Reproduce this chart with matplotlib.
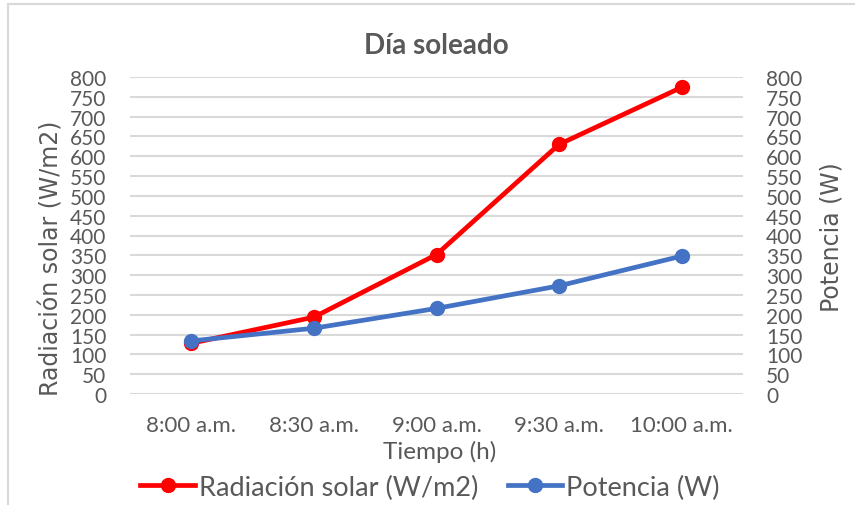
import matplotlib
matplotlib.use("Agg")
import matplotlib.pyplot as plt
from matplotlib.lines import Line2D
from matplotlib.patches import Rectangle

# Data
horas = ["8:00 a.m.", "8:30 a.m.", "9:00 a.m.", "9:30 a.m.", "10:00 a.m."]
radiacion = [128, 194, 352, 630, 774]
potencia = [134, 166, 216, 273, 348]
yticks = list(range(0, 801, 50))

TEXT = "#595959"
GRID = "#d9d9d9"
RED = "#ff0000"
BLUE = "#4472c4"
FONT = ["Lato", "DejaVu Sans"]
W, H = 855, 506


def fx(px):
    return px / W


def fy(py):
    return 1 - py / H


fig = plt.figure(figsize=(W / 100, H / 100), dpi=100)
fig.patch.set_facecolor("white")

# chart area border
fig.add_artist(Rectangle((fx(7.5), -0.1), 1.2, fy(4.5) + 0.1,
                         transform=fig.transFigure, fill=False,
                         edgecolor=GRID, linewidth=1.5))

ax = fig.add_axes([fx(130), fy(395), (743 - 130) / W, (395 - 78) / H])
x = list(range(len(horas)))

ax.set_xlim(-0.5, len(horas) - 0.5)
ax.set_ylim(0, 800)
ax.set_yticks(yticks)
ax.yaxis.grid(True, color=GRID, linewidth=1.5)
ax.set_axisbelow(True)
for s in ax.spines.values():
    s.set_visible(False)
ax.tick_params(length=0, labelcolor=TEXT)
ax.tick_params(axis="y", pad=17, labelsize=15)
ax.tick_params(axis="x", pad=15, labelsize=16)
ax.set_xticks(x)
ax.set_xticklabels(horas, family=FONT)
for lab in ax.get_yticklabels():
    lab.set_family(FONT)

ax.plot(x, radiacion, color=RED, linewidth=3.4, marker="o", markersize=10,
        solid_capstyle="round", zorder=3)

ax2 = ax.twinx()
ax2.set_ylim(0, 800)
ax2.set_yticks(yticks)
for s in ax2.spines.values():
    s.set_visible(False)
ax2.tick_params(length=0, labelsize=15, labelcolor=TEXT, pad=16.5)
for lab in ax2.get_yticklabels():
    lab.set_family(FONT)
ax2.plot(x, potencia, color=BLUE, linewidth=3.4, marker="o", markersize=10,
         solid_capstyle="round", zorder=3)

# axis titles
fig.text(fx(51), fy(258), "Radiación solar (W/m2)", rotation=90,
         ha="center", va="center", fontsize=17, color=TEXT,
         family="DejaVu Sans")
fig.text(fx(831), fy(237), "Potencia (W)", rotation=90,
         ha="center", va="center", fontsize=17, color=TEXT,
         family="DejaVu Sans")
fig.text(fx(440), fy(452), "Tiempo (h)", ha="center", va="center",
         fontsize=17.5, color=TEXT, family=FONT)

fig.text(fx(436), fy(46), "Día soleado", ha="center", va="center",
         fontsize=20, fontweight="bold", color=TEXT, family=FONT)

handles = [
    Line2D([], [], color=RED, linewidth=3.4, marker="o", markersize=10),
    Line2D([], [], color=BLUE, linewidth=3.4, marker="o", markersize=10),
]
fig.legend(handles, ["Radiación solar (W/m2)", "Potencia (W)"],
           loc="center", bbox_to_anchor=(fx(430), fy(488)),
           ncol=2, frameon=False, handlelength=2.0, handletextpad=0.15,
           columnspacing=1.1, prop={"family": FONT, "size": 19.5},
           labelcolor=TEXT)

fig.savefig("out.png", dpi=100)
